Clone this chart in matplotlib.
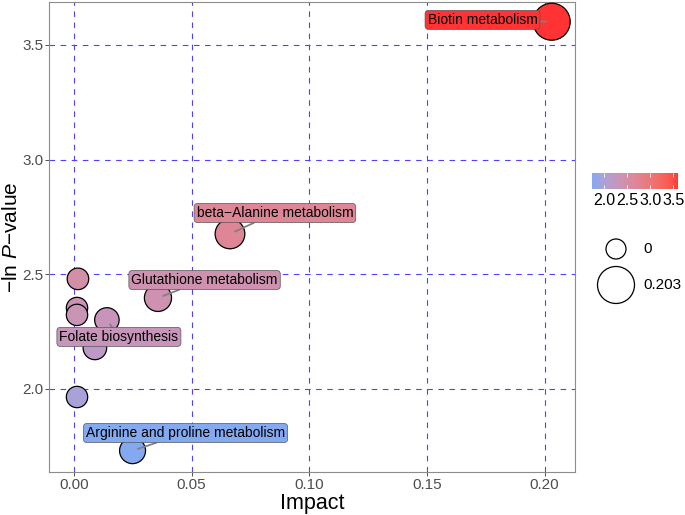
import numpy as np
import matplotlib

matplotlib.use("Agg")
import matplotlib.pyplot as plt
from matplotlib.colors import ListedColormap, Normalize
from matplotlib.cm import ScalarMappable

plt.rcParams["font.family"] = ["Liberation Sans", "DejaVu Sans"]
plt.rcParams["mathtext.fontset"] = "custom"
plt.rcParams["mathtext.rm"] = "Liberation Sans"
plt.rcParams["mathtext.it"] = "Liberation Sans:italic"

# pathway data: impact (x) and -ln p (y)
pathways = [
    "Biotin metabolism",
    "beta\u2212Alanine metabolism",
    "Glutathione metabolism",
    "",
    "",
    "",
    "Folate biosynthesis",
    "",
    "",
    "Arginine and proline metabolism",
]
impact = [0.203, 0.0663, 0.0357, 0.0017, 0.0013, 0.0013, 0.0140, 0.0089, 0.0013, 0.0249]
neg_log_p = [3.601, 2.676, 2.397, 2.480, 2.353, 2.323, 2.301, 2.179, 1.965, 1.731]

# where the repelled labels ended up (data coords)
label_x = [0.1736, 0.0854, 0.0555, None, None, None, 0.0191, None, None, 0.0474]
label_y = [3.609, 2.767, 2.475, None, None, None, 2.227, None, None, 1.808]

x_ticks = [0.00, 0.05, 0.10, 0.15, 0.20]
y_ticks = [2.0, 2.5, 3.0, 3.5]
cbar_ticks = [2.0, 2.5, 3.0, 3.5]
size_breaks = [0, 0.203]


def _to_lab(rgb):
    c = np.asarray(rgb, dtype=float)
    lin = np.where(c <= 0.04045, c / 12.92, ((c + 0.055) / 1.055) ** 2.4)
    m = np.array([[0.4124, 0.3576, 0.1805], [0.2126, 0.7152, 0.0722], [0.0193, 0.1192, 0.9505]])
    xyz = m @ lin / np.array([0.95047, 1.0, 1.08883])
    d = 6 / 29
    f = np.where(xyz > d ** 3, np.cbrt(xyz), xyz / (3 * d * d) + 4 / 29)
    return np.array([116 * f[1] - 16, 500 * (f[0] - f[1]), 200 * (f[1] - f[2])])


def _from_lab(lab):
    L, a, b = lab
    fy = (L + 16) / 116
    f = np.array([fy + a / 500, fy, fy - b / 200])
    d = 6 / 29
    xyz = np.where(f > d, f ** 3, 3 * d * d * (f - 4 / 29)) * np.array([0.95047, 1.0, 1.08883])
    m = np.array([[0.4124, 0.3576, 0.1805], [0.2126, 0.7152, 0.0722], [0.0193, 0.1192, 0.9505]])
    lin = np.linalg.solve(m, xyz)
    srgb = np.where(lin <= 0.0031308, 12.92 * lin, 1.055 * np.abs(lin) ** (1 / 2.4) - 0.055)
    return np.clip(srgb, 0, 1)


# ggplot-like gradient (Lab) from cornflowerblue to red, alpha 0.8 on white
low = _to_lab([100 / 255, 149 / 255, 237 / 255])
high = _to_lab([1.0, 0.0, 0.0])
grad = [_from_lab(low + (high - low) * t) * 0.8 + 0.2 for t in np.linspace(0, 1, 256)]
cmap = ListedColormap(grad)
norm = Normalize(vmin=min(neg_log_p), vmax=max(neg_log_p))


def size_scale(v):
    # diameter in px -> marker area in pt^2
    d_px = 20 + 17 * np.sqrt(np.asarray(v) / max(impact))
    return (d_px * 0.72) ** 2


fig = plt.figure(figsize=(6.85, 5.15), dpi=100)
W, H = 685, 515
ax_w, ax_h = 575 - 49, 472 - 2
ax = fig.add_axes([49 / W, (H - 472) / H, ax_w / W, ax_h / H])

ax.set_xlim(-0.0106, 0.2129)
ax.set_ylim(1.638, 3.687)
ax.set_xticks(x_ticks)
ax.set_xticklabels([f"{t:.2f}" for t in x_ticks])
ax.set_yticks(y_ticks)
ax.set_yticklabels([f"{t:.1f}" for t in y_ticks])
ax.grid(True, color="#4f3fff", linestyle=(0, (5, 5)), linewidth=0.8)
ax.set_axisbelow(True)
for sp in ax.spines.values():
    sp.set_color("#8c8c8c")
    sp.set_linewidth(0.8)
ax.tick_params(colors="#4d4d4d", labelsize=11, length=3, width=0.6, pad=1)
ax.tick_params(axis="both", color="#333333")

colors = cmap(norm(neg_log_p))
ax.scatter(impact, neg_log_p, s=size_scale(impact), c=colors,
           edgecolors="black", linewidths=0.9, zorder=3)

for name, x, y, lx, ly, col in zip(pathways, impact, neg_log_p, label_x, label_y, colors):
    if not name:
        continue
    ax.annotate(
        name, xy=(x, y), xytext=(lx, ly), textcoords="data",
        ha="center", va="center", fontsize=10, color="black", zorder=5,
        bbox=dict(boxstyle="round,pad=0.18,rounding_size=0.25", fc=col,
                  ec="#555555", lw=0.5),
        arrowprops=dict(arrowstyle="-", color="#808080", lw=1.3,
                        shrinkA=0, shrinkB=4),
    )

ax.set_xlabel("Impact", fontsize=15.5, va="top", ha="center")
ax.xaxis.set_label_coords(0.5, (472 - 493) / ax_h)
ax.set_ylabel("\u2212ln $\\mathit{P}$\u2212value", fontsize=15, va="center", ha="center")
ax.yaxis.set_label_coords((12 - 49) / ax_w, 0.5)

# colour bar legend
cax = fig.add_axes([592 / W, (H - 189) / H, 86 / W, 16 / H])
cb = fig.colorbar(ScalarMappable(norm=norm, cmap=cmap), cax=cax, orientation="horizontal")
cb.outline.set_visible(False)
cb.set_ticks(cbar_ticks)
cb.set_ticklabels([f"{t:.1f}" for t in cbar_ticks])
cax.tick_params(axis="x", direction="in", color="white", length=3, width=0.6,
                top=True, labelsize=11.5, pad=3, labelcolor="black")

# size legend
lax = fig.add_axes([596 / W, (H - 305) / H, 89 / W, 74 / H])
lax.set_xlim(0, 89)
lax.set_ylim(1.556, -0.5)
lax.axis("off")
lax.scatter([20, 20], [0, 1], s=size_scale(size_breaks), facecolors="white",
            edgecolors="black", linewidths=0.9)
for i, b in enumerate(size_breaks):
    lax.text(47, i, f"{b:g}", ha="left", va="center", fontsize=11)

fig.savefig("out.png", dpi=100)
